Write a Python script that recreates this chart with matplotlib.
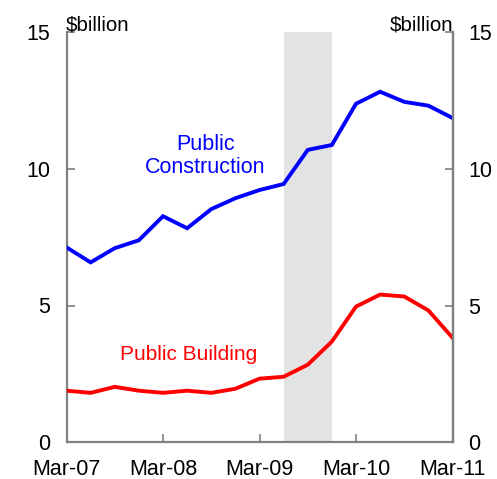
import matplotlib
matplotlib.use("Agg")
import matplotlib.pyplot as plt

plt.rcParams['font.family'] = ['Liberation Sans', 'DejaVu Sans']

quarters = ["Mar-07", "Jun-07", "Sep-07", "Dec-07", "Mar-08", "Jun-08", "Sep-08", "Dec-08",
            "Mar-09", "Jun-09", "Sep-09", "Dec-09", "Mar-10", "Jun-10", "Sep-10", "Dec-10", "Mar-11"]
construction = [7.13, 6.58, 7.10, 7.39, 8.27, 7.83, 8.53, 8.93, 9.23, 9.45,
                10.70, 10.88, 12.39, 12.83, 12.46, 12.32, 11.87]
building = [1.88, 1.80, 2.02, 1.88, 1.80, 1.88, 1.80, 1.95, 2.32, 2.39,
            2.83, 3.68, 4.96, 5.40, 5.33, 4.82, 3.82]
shade_start, shade_end = "Jun-09", "Dec-09"
tick_labels = ["Mar-07", "Mar-08", "Mar-09", "Mar-10", "Mar-11"]

x = list(range(len(quarters)))
grey = "#808080"

fig = plt.figure(figsize=(4.97, 4.79), dpi=100)
ax = fig.add_axes([66.5 / 497, 1 - 442 / 479, (452.5 - 66.5) / 497, (442 - 32.5) / 479])

ax.axvspan(quarters.index(shade_start), quarters.index(shade_end), color="#e3e3e3", lw=0, zorder=0)
ax.plot(x, construction, color="#0000ff", lw=2.8, solid_joinstyle="miter", zorder=3)
ax.plot(x, building, color="#ff0000", lw=2.8, solid_joinstyle="miter", zorder=3)

ax.set_xlim(0, len(quarters) - 1)
ax.set_ylim(0, 15)
ax.set_yticks([0, 5, 10, 15])
ax.set_xticks([quarters.index(t) for t in tick_labels])
ax.set_xticklabels(tick_labels)

for side in ["left", "right", "bottom"]:
    ax.spines[side].set_color(grey)
    ax.spines[side].set_linewidth(1.6)
ax.spines["top"].set_visible(False)

ax.tick_params(axis="both", direction="in", color=grey, width=1.2, length=5.5,
               labelsize=15.5, colors="black")
ax.tick_params(axis="x", pad=12.5)
ax.tick_params(axis="y", pad=11.5)

ax2 = ax.twinx()
ax2.set_ylim(0, 15)
ax2.set_yticks([0, 5, 10, 15])
ax2.spines["top"].set_visible(False)
ax2.spines["right"].set_color(grey)
ax2.spines["right"].set_linewidth(1.6)
ax2.spines["left"].set_visible(False)
ax2.spines["bottom"].set_visible(False)
ax2.tick_params(axis="y", direction="in", color=grey, width=1.2, length=5.5,
                labelsize=15.5, pad=11.5)

ax.text(-0.05, 15.07, "$billion", fontsize=14.8, ha="left", va="baseline")
ax.text(16.05, 15.07, "$billion", fontsize=14.8, ha="right", va="baseline")

ax.text(5.75, 10.49, "Public\nConstruction", color="#0000ff", fontsize=15.5,
        ha="center", va="center", linespacing=1.12)
ax.text(5.06, 3.19, "Public Building", color="#ff0000", fontsize=15,
        ha="center", va="center")

fig.savefig("out.png", dpi=100)
